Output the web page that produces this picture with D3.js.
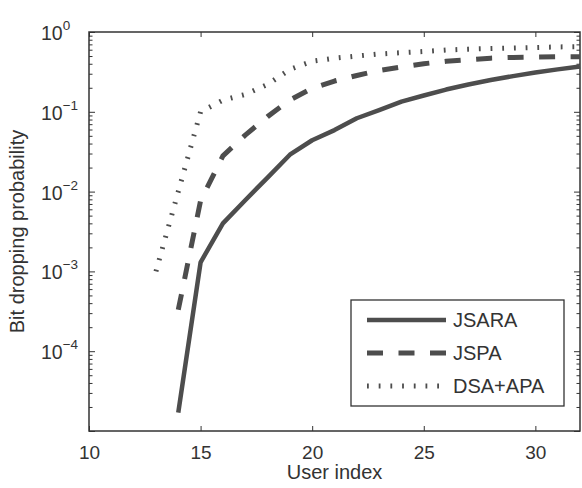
<!DOCTYPE html>
<html>
<head>
<meta charset="utf-8">
<script src="https://cdn.jsdelivr.net/npm/d3@7"></script>
<style>
  body { margin: 0; background: #fff; }
  svg text { font-family: "Liberation Sans", Arial, Helvetica, sans-serif; fill: #333; }
</style>
</head>
<body>
<div id="chart"></div>
<script>
// user index for each curve
const xJsara = [14, 15, 16, 17, 18, 19, 20, 21, 22, 23, 24, 25, 26, 27, 28, 29, 30, 31, 32]
const xJspa = [14, 15, 16, 17, 18, 19, 20, 21, 22, 23, 24, 25, 26, 27, 28, 29, 30, 31, 32]
const xDsa = [13, 14, 15, 16, 17, 18, 19, 20, 21, 22, 23, 24, 25, 26, 27, 28, 29, 30, 31, 32]

// bit dropping probability
const jsara = [1.7e-5, 1.3e-3, 4.0e-3, 7.8e-3, 0.015, 0.029, 0.044, 0.059, 0.083, 0.105,
  0.134, 0.16, 0.19, 0.22, 0.25, 0.28, 0.31, 0.34, 0.37]
const jspa = [3.3e-4, 7.7e-3, 0.028, 0.051, 0.087, 0.14, 0.197, 0.243, 0.285, 0.33,
  0.365, 0.40, 0.43, 0.45, 0.47, 0.48, 0.485, 0.49, 0.49]
const dsaApa = [1e-3, 0.01, 0.1, 0.14, 0.165, 0.22, 0.34, 0.43, 0.47, 0.50,
  0.53, 0.55, 0.57, 0.595, 0.61, 0.62, 0.63, 0.64, 0.65, 0.655]

const seriesNames = ['JSARA', 'JSPA', 'DSA+APA']
const xTicks = [10, 15, 20, 25, 30]
const yExponents = [0, -1, -2, -3, -4]

const width = 582
const height = 488
const plot = { left: 89, right: 580, top: 32, bottom: 431 }
const lineColor = '#4d4d4d'
const styles = [
  { width: 4.5, dash: null, color: lineColor },
  { width: 5, dash: '16,15.5', color: lineColor },
  { width: 5, dash: '1.8,9.9', color: '#4d4d4d' }
]

const svg = d3.select('#chart')
  .append('svg')
  .attr('width', width)
  .attr('height', height)

const x = d3.scaleLinear().domain([10, 32]).range([plot.left, plot.right])
const y = d3.scaleLog().domain([1e-5, 1]).range([plot.bottom, plot.top])

// minor ticks of the log axis
let minorTicks = []
for (let e = -5; e < 0; e++) {
  for (let m = 2; m <= 9; m++) minorTicks.push(m * Math.pow(10, e))
}
const majorTicks = yExponents.map(e => Math.pow(10, e)).concat([1e-5])

function styleAxis (g) {
  g.select('.domain').remove()
  g.selectAll('line').attr('stroke', '#333').attr('stroke-width', 1)
}

svg.append('g')
  .attr('transform', 'translate(0,' + plot.bottom + ')')
  .call(d3.axisBottom(x).tickValues(xTicks).tickSize(-5).tickSizeOuter(0))
  .call(styleAxis)
  .call(g => g.selectAll('text')
    .attr('y', 28)
    .attr('dy', null)
    .style('font-size', '19px')
    .style('font-family', '"Liberation Sans", Arial, sans-serif')
    .attr('fill', '#333'))

svg.append('g')
  .attr('transform', 'translate(0,' + plot.top + ')')
  .call(d3.axisTop(x).tickValues(xTicks).tickSize(-5).tickSizeOuter(0).tickFormat(''))
  .call(styleAxis)

svg.append('g')
  .attr('transform', 'translate(' + plot.left + ',0)')
  .call(d3.axisLeft(y).tickValues(majorTicks).tickSize(-6).tickSizeOuter(0).tickFormat(''))
  .call(styleAxis)
svg.append('g')
  .attr('transform', 'translate(' + plot.left + ',0)')
  .call(d3.axisLeft(y).tickValues(minorTicks).tickSize(-3.5).tickSizeOuter(0).tickFormat(''))
  .call(styleAxis)
svg.append('g')
  .attr('transform', 'translate(' + plot.right + ',0)')
  .call(d3.axisRight(y).tickValues(majorTicks).tickSize(-6).tickSizeOuter(0).tickFormat(''))
  .call(styleAxis)
svg.append('g')
  .attr('transform', 'translate(' + plot.right + ',0)')
  .call(d3.axisRight(y).tickValues(minorTicks).tickSize(-3.5).tickSizeOuter(0).tickFormat(''))
  .call(styleAxis)

// y tick labels as 10^n
let yLabels = svg.selectAll('.ylab')
  .data(yExponents)
  .enter()
  .append('text')
  .attr('class', 'ylab')
  .attr('x', 41)
  .attr('y', d => y(Math.pow(10, d)) + 8)
  .style('font-size', '19.5px')
yLabels.append('tspan').text('10')
yLabels.append('tspan')
  .attr('dy', -10)
  .style('font-size', '13.5px')
  .text(d => d === 0 ? '0' : '\u2212' + Math.abs(d))

// frame
svg.append('rect')
  .attr('x', plot.left)
  .attr('y', plot.top)
  .attr('width', plot.right - plot.left)
  .attr('height', plot.bottom - plot.top)
  .attr('fill', 'none')
  .attr('stroke', '#333')
  .attr('stroke-width', 1.5)

// curves
const series = [
  { xs: xJsara, ys: jsara },
  { xs: xJspa, ys: jspa },
  { xs: xDsa, ys: dsaApa }
]
const line = d3.line()
  .x(d => x(d[0]))
  .y(d => y(d[1]))

series.forEach((s, i) => {
  svg.append('path')
    .datum(d3.zip(s.xs, s.ys))
    .attr('d', line)
    .attr('fill', 'none')
    .attr('stroke', styles[i].color)
    .attr('stroke-width', styles[i].width)
    .attr('stroke-dasharray', styles[i].dash)
    .attr('stroke-linejoin', 'round')
})

// axis titles
svg.append('text')
  .attr('x', (plot.left + plot.right) / 2)
  .attr('y', 479)
  .attr('text-anchor', 'middle')
  .style('font-size', '20px')
  .text('User index')

svg.append('text')
  .attr('transform', 'translate(24,' + (plot.top + plot.bottom) / 2 + ') rotate(-90)')
  .attr('text-anchor', 'middle')
  .style('font-size', '20px')
  .text('Bit dropping probability')

// legend
let legend = svg.append('g').attr('class', 'legend')
legend.append('rect')
  .attr('x', 351)
  .attr('y', 300)
  .attr('width', 213)
  .attr('height', 106)
  .attr('fill', '#fff')
  .attr('stroke', '#333')
  .attr('stroke-width', 1.3)

let legendItems = legend.selectAll('.item')
  .data(seriesNames)
  .enter()
  .append('g')
  .attr('class', 'item')
  .attr('transform', (d, i) => 'translate(0,' + (320 + i * 33) + ')')

legendItems.append('line')
  .attr('x1', 367)
  .attr('x2', 446)
  .attr('stroke', (d, i) => styles[i].color)
  .attr('stroke-width', (d, i) => styles[i].width)
  .attr('stroke-dasharray', (d, i) => styles[i].dash)

legendItems.append('text')
  .attr('x', 453)
  .attr('y', 7)
  .style('font-size', '20px')
  .text(d => d)
</script>
</body>
</html>
